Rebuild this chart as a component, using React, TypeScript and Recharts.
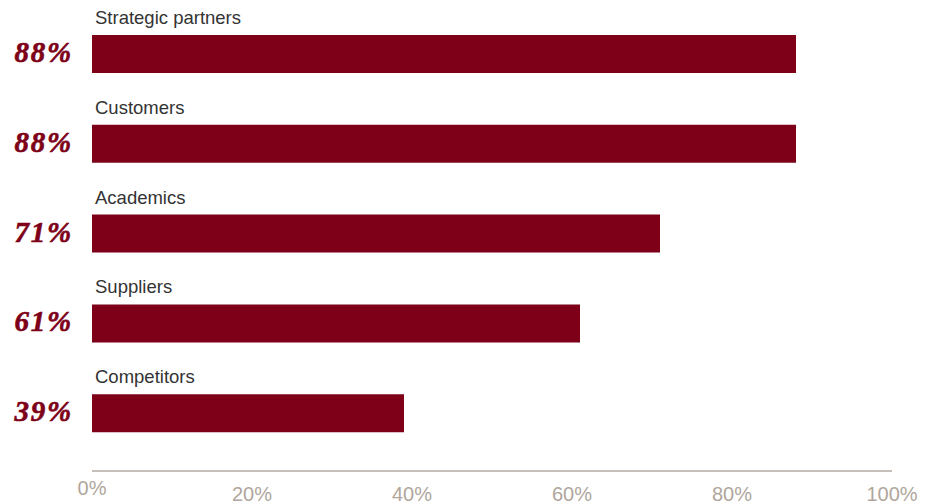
import React from 'react'
import { BarChart, Bar, XAxis, YAxis, LabelList } from 'recharts'

const categories = ['Strategic partners', 'Customers', 'Academics', 'Suppliers', 'Competitors']
const values = [88, 88, 71, 61, 39]
const xTicks = [0, 20, 40, 60, 80, 100]

const data = categories.map((name, i) => ({ name, value: values[i] }))

const RED = '#7d0018'

const PercentLabel = (props: any) => {
  const { y, height, value } = props
  return (
    <text
      x={73}
      y={y + height / 2 + 8}
      textAnchor="end"
      fill={RED}
      stroke={RED}
      strokeWidth={0.6}
      fontFamily="'Liberation Serif', serif"
      fontWeight="bold"
      fontStyle="italic"
      fontSize={29}
      letterSpacing={1.8}
    >
      {value}%
    </text>
  )
}

const NameLabel = (props: any) => {
  const { x, y, value } = props
  return (
    <text x={x + 3} y={y - 11} fill="#333" fontFamily="'Liberation Sans', Arial, sans-serif" fontSize={18.5}>
      {value}
    </text>
  )
}

const XTick = (props: any) => {
  const { x, y, payload, index } = props
  return (
    <text
      x={x}
      y={y + (index === 0 ? 16 : 22)}
      textAnchor="middle"
      fill="#b0a69c"
      fontFamily="'Liberation Sans', Arial, sans-serif"
      fontSize={20}
    >
      {payload.value}%
    </text>
  )
}

export default function App() {
  return (
    <div style={{ position: 'absolute', left: 0, top: 0 }}>
      <BarChart
        width={933}
        height={504}
        data={data}
        layout="vertical"
        margin={{ top: 9, right: 41, bottom: 3, left: 92 }}
      >
        <XAxis
          type="number"
          domain={[0, 100]}
          ticks={xTicks}
          height={30}
          axisLine={{ stroke: '#b3a9a0', strokeWidth: 1.5 }}
          tickLine={false}
          tick={<XTick />}
          interval={0}
        />
        <YAxis type="category" dataKey="name" hide padding={{ top: 0, bottom: 13 }} />
        <Bar dataKey="value" fill={RED} barSize={38} isAnimationActive={false}>
          <LabelList dataKey="value" content={<PercentLabel />} />
          <LabelList dataKey="name" content={<NameLabel />} />
        </Bar>
      </BarChart>
    </div>
  )
}
